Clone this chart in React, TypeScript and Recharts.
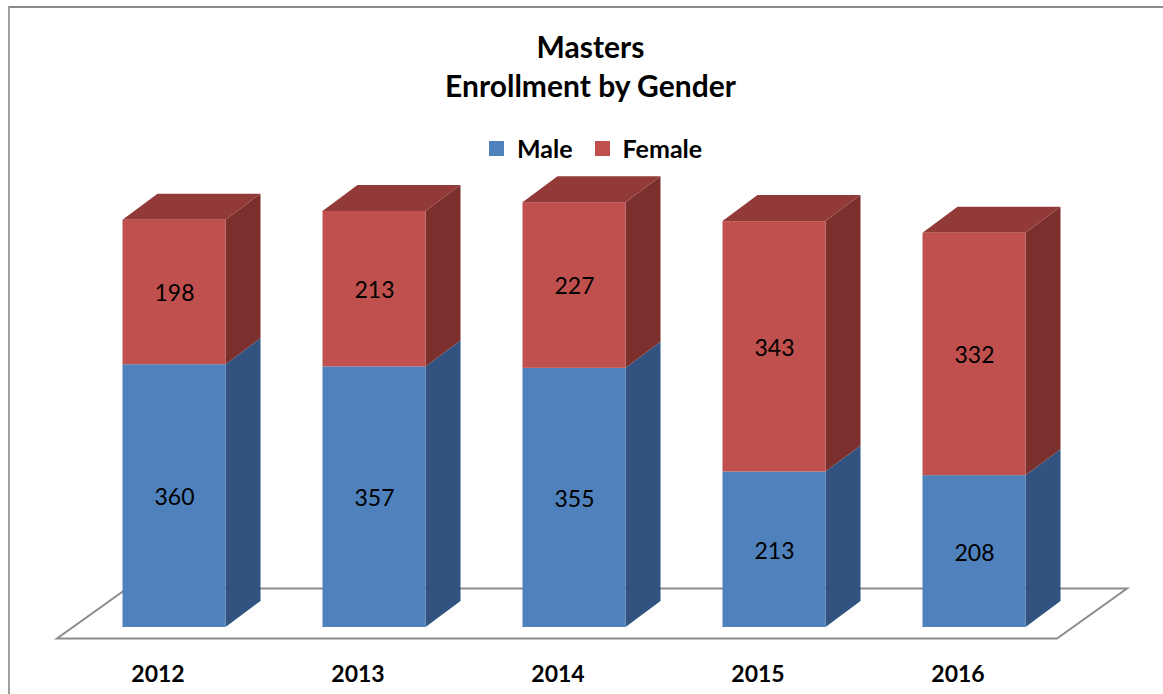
import React from "react";
import { BarChart, Bar, XAxis, YAxis, Legend, LabelList, usePlotArea } from "recharts";

const years = ["2012", "2013", "2014", "2015", "2016"];
const male = [360, 357, 355, 213, 208];
const female = [198, 213, 227, 343, 332];
const titleLines = ["Masters", "Enrollment by Gender"];

const data = years.map((year, i) => ({ year, Male: male[i], Female: female[i] }));

const FONT = "Lato, 'Open Sans', sans-serif";
const SHIFT_X = 16.5;
const SHIFT_Y = -11.5;
const DEPTH_X = 35;
const DEPTH_Y = 26;
const BLUE = { front: "#4f81bd", side: "#325380", top: "" };
const RED = { front: "#c0504d", side: "#7c302e", top: "#923a38" };

function box(colors: typeof BLUE) {
  return (props: any) => {
    const x = props.x + SHIFT_X;
    const y = props.y + SHIFT_Y;
    const w = props.width;
    const h = props.height;
    return (
      <g>
        <polygon
          points={`${x + w},${y} ${x + w + DEPTH_X},${y - DEPTH_Y} ${x + w + DEPTH_X},${y + h - DEPTH_Y} ${x + w},${y + h}`}
          fill={colors.side}
        />
        {colors.top ? (
          <polygon
            points={`${x},${y} ${x + DEPTH_X},${y - DEPTH_Y} ${x + w + DEPTH_X},${y - DEPTH_Y} ${x + w},${y}`}
            fill={colors.top}
          />
        ) : null}
        <rect x={x} y={y} width={w} height={h} fill={colors.front} />
      </g>
    );
  };
}

function segmentLabel(props: any) {
  const { x, y, width, height, value } = props;
  return (
    <text
      x={x + width / 2 + SHIFT_X + 0.5}
      y={y + height / 2 + SHIFT_Y + 0.5}
      textAnchor="middle"
      dominantBaseline="central"
      fontFamily={FONT}
      fontSize={23}
      fill="#000"
    >
      {value}
    </text>
  );
}

function Floor() {
  const plot = usePlotArea();
  if (!plot) return null;
  const left = plot.x;
  const right = plot.x + plot.width;
  const front = plot.y + plot.height;
  const back = front - 50;
  return (
    <polygon
      points={`${left},${front} ${right},${front} ${right + 70},${back} ${left + 70},${back}`}
      fill="#fff"
      stroke="#8c8c8c"
      strokeWidth={2}
    />
  );
}

function LegendBox(props: any) {
  const items = props.payload || [];
  return (
    <div style={{ display: "flex", alignItems: "center", fontFamily: FONT, fontWeight: 700, fontSize: 25, color: "#000", lineHeight: "30px", whiteSpace: "nowrap" }}>
      {items.map((item: any, i: number) => (
        <div key={item.value} style={{ display: "flex", alignItems: "center", marginRight: i === 0 ? 22 : 0 }}>
          <span style={{ width: 15, height: 15, background: item.color, display: "inline-block", marginRight: 13 }} />
          <span>{item.value}</span>
        </div>
      ))}
    </div>
  );
}

export default function App() {
  return (
    <div style={{ position: "absolute", left: 0, top: 0, width: 1163, height: 694, background: "#fff", overflow: "hidden" }}>
      <div style={{ position: "absolute", left: 8, top: 6, width: 1155, height: 688, borderLeft: "2px solid #a0a0a0", borderTop: "2px solid #8a8a8a" }} />
      <BarChart
        width={1163}
        height={694}
        data={data}
        margin={{ top: 200.5, right: 106, bottom: 0, left: 57 }}
        style={{ position: "absolute", left: 0, top: 0 }}
      >
        <Floor />
        <text textAnchor="middle" fontFamily={FONT} fontWeight={700} fontSize={30} fill="#000">
          <tspan x={590.5} y={58}>{titleLines[0]}</tspan>
          <tspan x={590.5} y={97}>{titleLines[1]}</tspan>
        </text>
        <XAxis
          dataKey="year"
          axisLine={false}
          tickLine={false}
          height={55.5}
          tick={{ fontFamily: FONT, fontWeight: 700, fontSize: 23, fill: "#000", dx: 1 }}
          tickMargin={21}
        />
        <YAxis hide domain={[0, 600]} />
        <Legend
          content={<LegendBox />}
          itemSorter={null}
          wrapperStyle={{ position: "absolute", left: 489, top: 133, bottom: "auto", width: 300, height: 0 }}
        />
        <Bar dataKey="Male" stackId="a" barSize={103} fill={BLUE.front} shape={box(BLUE)} isAnimationActive={false}>
          <LabelList dataKey="Male" content={segmentLabel} />
        </Bar>
        <Bar dataKey="Female" stackId="a" barSize={103} fill={RED.front} shape={box(RED)} isAnimationActive={false}>
          <LabelList dataKey="Female" content={segmentLabel} />
        </Bar>
      </BarChart>
    </div>
  );
}
